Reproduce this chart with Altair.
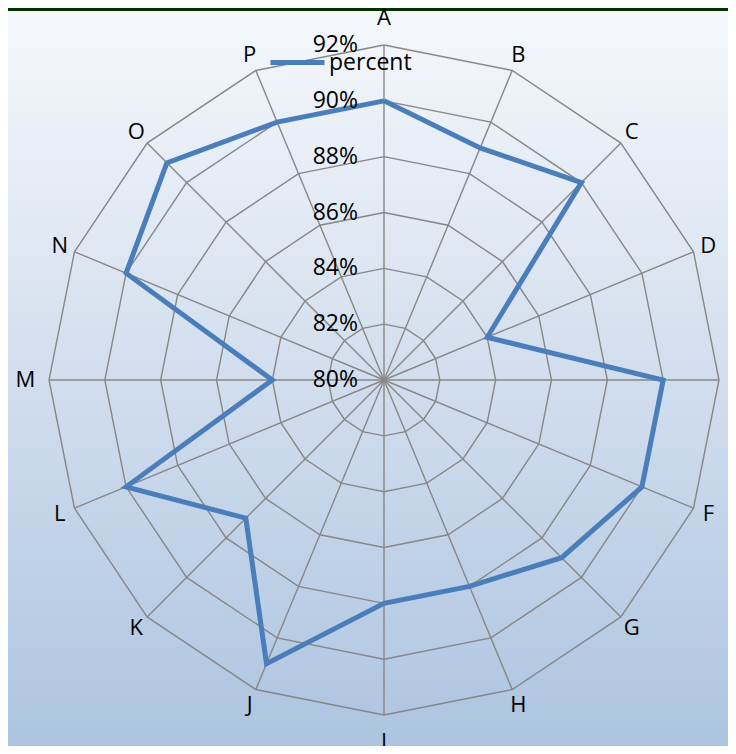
import altair as alt
import pandas as pd

# ---- data ----
categories = list("ABCDEFGHIJKLMNOP")
percent = [90, 89, 90, 84, 90, 90, 89, 88, 88, 91, 87, 90, 84, 90, 91, 90]
series_name = "percent"
ring_levels = [82, 84, 86, 88, 90, 92]
tick_levels = [80, 82, 84, 86, 88, 90, 92]
tick_labels = ["80%", "82%", "84%", "86%", "88%", "90%", "92%"]

R_MIN = 80
R_MAX = 92
N = len(categories)

# ---- layout ----
W, H = 720, 738
CX, CY = 376, 372
K = 335 / (R_MAX - R_MIN)  # px per percentage point
xdom = [-CX / K, (W - CX) / K]
ydom = [-(H - CY) / K, CY / K]
xs = alt.Scale(domain=xdom, nice=False, zero=False)
ys = alt.Scale(domain=ydom, nice=False, zero=False)
FONT = "Open Sans"
GRID = "#878787"
BLUE = "#4a7ebb"

ANG = "datum.idx * 2 * PI / %d" % N

# ---- tables built from the arrays ----
line_df = pd.DataFrame({
    "cat": categories + [categories[0]],
    "value": percent + [percent[0]],
    "idx": list(range(N)) + [N],
    "series": series_name,
})

ring_rows = []
for lv in ring_levels:
    for i in range(N + 1):
        ring_rows.append({"level": lv, "idx": i})
ring_df = pd.DataFrame(ring_rows)

spoke_df = pd.DataFrame({"idx": list(range(N))})
cat_df = pd.DataFrame({"idx": list(range(N)), "cat": categories})
tick_df = pd.DataFrame({"level": tick_levels, "label": tick_labels})

# background
bg = alt.Chart(pd.DataFrame({"a": [0]})).mark_rect(
    fill=alt.LinearGradient(
        gradient="linear",
        stops=[alt.GradientStop(offset=0, color="#f6f8fc"),
               alt.GradientStop(offset=1, color="#adc4e0")],
        x1=0, x2=0, y1=0, y2=1,
    )
).encode(x=alt.value(0), x2=alt.value(W), y=alt.value(0), y2=alt.value(H))

topbar = alt.Chart(pd.DataFrame({"a": [0]})).mark_rect(color="#003300").encode(
    x=alt.value(0), x2=alt.value(W), y=alt.value(0), y2=alt.value(3)
)

rings = alt.Chart(ring_df).transform_calculate(
    ang=ANG, r="datum.level - %d" % R_MIN
).transform_calculate(
    x="datum.r * sin(datum.ang)", y="datum.r * cos(datum.ang)"
).mark_line(color=GRID, strokeWidth=1.4).encode(
    x=alt.X("x:Q", scale=xs, axis=None),
    y=alt.Y("y:Q", scale=ys, axis=None),
    detail="level:N",
    order="idx:Q",
)

spokes = alt.Chart(spoke_df).transform_calculate(
    ang=ANG
).transform_calculate(
    x0="0", y0="0",
    xe="%d * sin(datum.ang)" % (R_MAX - R_MIN),
    ye="%d * cos(datum.ang)" % (R_MAX - R_MIN),
).mark_rule(color=GRID, strokeWidth=1.4).encode(
    x=alt.X("x0:Q", scale=xs, axis=None),
    y=alt.Y("y0:Q", scale=ys, axis=None),
    x2="xe:Q",
    y2="ye:Q",
)

data_line = alt.Chart(line_df).transform_calculate(
    ang=ANG, r="datum.value - %d" % R_MIN
).transform_calculate(
    x="datum.r * sin(datum.ang)", y="datum.r * cos(datum.ang)"
).mark_line(strokeWidth=5).encode(
    x=alt.X("x:Q", scale=xs, axis=None),
    y=alt.Y("y:Q", scale=ys, axis=None),
    order="idx:Q",
    color=alt.Color(
        "series:N",
        scale=alt.Scale(range=[BLUE]),
        legend=alt.Legend(
            orient="none", legendX=260, legendY=25, title=None,
            symbolType="stroke", symbolSize=2916, symbolStrokeWidth=5,
            labelFont=FONT, labelFontSize=23, labelColor="black",
            labelOffset=2, padding=0,
        ),
    ),
)

cat_labels = alt.Chart(cat_df).transform_calculate(
    ang=ANG
).transform_calculate(
    lr="12.55 + 0.4 * pow(cos(datum.ang), 32) + 0.3 * pow(sin(datum.ang), 32)"
).transform_calculate(
    x="datum.lr * sin(datum.ang)", y="datum.lr * cos(datum.ang)"
).mark_text(font=FONT, fontSize=22, color="black", align="center", baseline="middle").encode(
    x=alt.X("x:Q", scale=xs, axis=None),
    y=alt.Y("y:Q", scale=ys, axis=None),
    text="cat:N",
)

ticks = alt.Chart(tick_df).transform_calculate(
    x="-0.93", y="datum.level - %d" % R_MIN
).mark_text(font=FONT, fontSize=23, color="black", align="right", baseline="middle").encode(
    x=alt.X("x:Q", scale=xs, axis=None),
    y=alt.Y("y:Q", scale=ys, axis=None),
    text="label:N",
)

chart = alt.layer(bg, topbar, rings, spokes, data_line, cat_labels, ticks).properties(
    width=W, height=H, padding=0, autosize=alt.AutoSizeParams(type="none"),
).configure_view(stroke=None)

chart.save("out.html", embed_options={"renderer": "svg", "actions": False})
